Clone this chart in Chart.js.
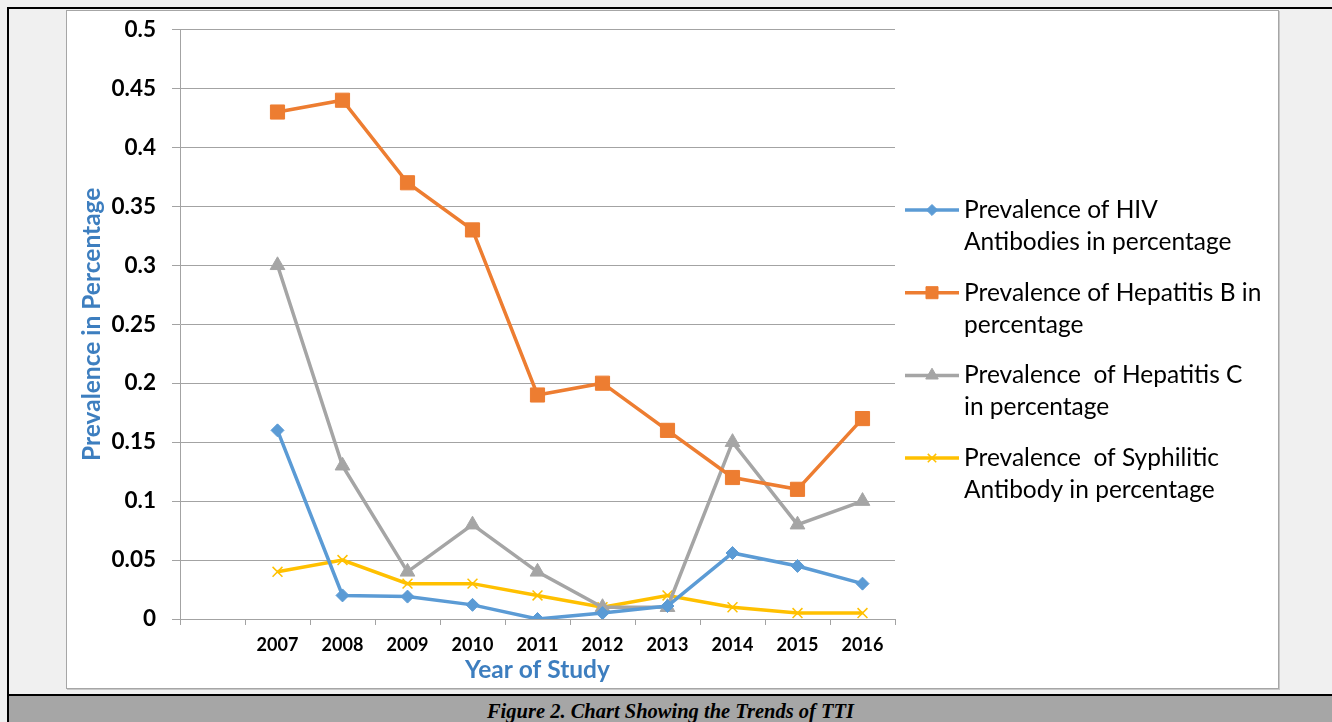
<!DOCTYPE html>
<html>
<head>
<meta charset="utf-8">
<script src="https://cdn.jsdelivr.net/npm/chart.js@4.4.0/dist/chart.umd.min.js"></script>
<style>
body { margin:0; width:1332px; height:722px; background:#f0f0f0; overflow:hidden; position:relative; }
#frameTop { position:absolute; left:7px; top:7px; width:1325px; height:2px; background:#000; }
#frameLeft { position:absolute; left:7px; top:7px; width:2px; height:715px; background:#000; }
#box { position:absolute; left:66px; top:10px; width:1211px; height:677px; background:#fff; border:1px solid #a6a6a6; box-shadow:1px 1px 0 #c8c8c8; }
#frameBottom { position:absolute; left:7px; top:694px; width:1325px; height:2px; background:#000; }
#caption { position:absolute; left:9px; top:696px; width:1323px; height:26px; background:#a6a6a6; text-align:center; font:italic bold 20.5px "Liberation Serif", serif; line-height:30px; color:#000; overflow:hidden; }
#loanCharts { position:absolute; left:0; top:0; }
</style>
</head>
<body>
<div id="frameTop"></div>
<div id="frameLeft"></div>
<div id="box"></div>
<div id="frameBottom"></div>
<div id="caption">Figure 2. Chart Showing the Trends of TTI</div>
<canvas id="loanCharts" width="1332" height="722"></canvas>
<script>
// данные графика
const years = ['2007', '2008', '2009', '2010', '2011', '2012', '2013', '2014', '2015', '2016'];
const hiv = [0.16, 0.02, 0.019, 0.012, 0.0, 0.005, 0.011, 0.056, 0.045, 0.03];
const hepB = [0.43, 0.44, 0.37, 0.33, 0.19, 0.20, 0.16, 0.12, 0.11, 0.17];
const hepC = [0.30, 0.13, 0.04, 0.08, 0.04, 0.01, 0.01, 0.15, 0.08, 0.10];
const syphilis = [0.04, 0.05, 0.03, 0.03, 0.02, 0.01, 0.02, 0.01, 0.005, 0.005];
const yTicks = [0, 0.05, 0.1, 0.15, 0.2, 0.25, 0.3, 0.35, 0.4, 0.45, 0.5];

const hivName = ['Prevalence of HIV', 'Antibodies in percentage'];
const hepBName = ['Prevalence of Hepatitis B in', 'percentage'];
const hepCName = ['Prevalence  of Hepatitis C', 'in percentage'];
const syphName = ['Prevalence  of Syphilitic', 'Antibody in percentage'];

const axisBlue = '#3d7ebf';
const gridGray = '#a3a3a3';

// первая пустая категория, как в Excel
const labels = [''].concat(years);

function makeSet(name, values, color, style, radius, pbw) {
    return {
        label: name,
        data: [null].concat(values),
        borderColor: color,
        backgroundColor: color,
        borderWidth: 3.5,
        pointStyle: style,
        pointRadius: radius,
        pointHoverRadius: radius,
        pointBorderWidth: pbw,
        pointBackgroundColor: color,
        pointBorderColor: color,
        tension: 0,
        spanGaps: false
    };
}

// легенда справа: линия + маркер, текст в две строки
const sideLegend = {
    id: 'sideLegend',
    afterDraw(chart) {
        const ctx = chart.ctx;
        const lx = chart.chartArea.right + 10;
        const firstY = 210;
        const itemStep = 82.7;
        const lineStep = 32;
        chart.data.datasets.forEach((ds, i) => {
            const y = firstY + i * itemStep;
            ctx.save();
            ctx.strokeStyle = ds.borderColor;
            ctx.fillStyle = ds.backgroundColor;
            ctx.lineWidth = 3.5;
            ctx.beginPath();
            ctx.moveTo(lx, y);
            ctx.lineTo(lx + 54, y);
            ctx.stroke();
            ctx.lineWidth = ds.pointBorderWidth;
            Chart.helpers.drawPoint(ctx, {
                pointStyle: ds.pointStyle,
                radius: ds.pointRadius * 0.85,
                rotation: 0,
                borderWidth: ds.pointBorderWidth
            }, lx + 27, y);
            ctx.fillStyle = '#000';
            ctx.font = '24.5px Lato';
            ctx.textBaseline = 'middle';
            ctx.textAlign = 'left';
            ds.label.forEach((line, k) => {
                ctx.fillText(line, lx + 59, y + k * lineStep);
            });
            ctx.restore();
        });
    }
};

new Chart(document.getElementById('loanCharts').getContext('2d'), {
    type: 'line',
    data: {
        labels: labels,
        datasets: [
            makeSet(hivName, hiv, '#5b9bd5', 'rectRot', 6.5, 1),
            makeSet(hepBName, hepB, '#ed7d31', 'rect', 10, 1),
            makeSet(hepCName, hepC, '#a5a5a5', 'triangle', 8.5, 1),
            makeSet(syphName, syphilis, '#ffc000', 'crossRot', 7, 1.5)
        ]
    },
    options: {
        responsive: false,
        animation: false,
        maintainAspectRatio: false,
        layout: {
            padding: { left: 77, top: 25.5, right: 437, bottom: 32 }
        },
        scales: {
            x: {
                type: 'category',
                offset: true,
                afterFit: s => { s.height = 71; },
                grid: {
                    offset: true,
                    drawOnChartArea: false,
                    drawTicks: true,
                    tickLength: 6,
                    color: gridGray
                },
                border: { color: gridGray, width: 1 },
                ticks: {
                    color: '#000',
                    padding: 9,
                    maxRotation: 0,
                    autoSkip: false,
                    font: { family: 'Lato', weight: 'bold', size: 18 }
                },
                title: {
                    display: true,
                    text: 'Year of Study',
                    color: axisBlue,
                    padding: { top: 0, bottom: 5 },
                    font: { family: 'Lato', weight: 'bold', size: 24.5 }
                }
            },
            y: {
                type: 'linear',
                min: 0,
                max: 0.5,
                afterFit: s => { s.width = 103; },
                afterBuildTicks: s => { s.ticks = yTicks.map(v => ({ value: v })); },
                grid: {
                    color: gridGray,
                    lineWidth: 1,
                    drawTicks: true,
                    tickLength: 8
                },
                border: { color: gridGray, width: 1 },
                ticks: {
                    color: '#000',
                    padding: 16,
                    font: { family: 'Lato', weight: 'bold', size: 22.5 },
                    callback: v => String(Number(v.toFixed(2)))
                },
                title: {
                    display: true,
                    text: 'Prevalence in Percentage',
                    color: axisBlue,
                    padding: { top: 0, bottom: 0 },
                    font: { family: 'Lato', weight: 'bold', size: 24.5 }
                }
            }
        },
        plugins: {
            legend: { display: false },
            tooltip: { enabled: false }
        }
    },
    plugins: [sideLegend]
});
</script>
</body>
</html>
